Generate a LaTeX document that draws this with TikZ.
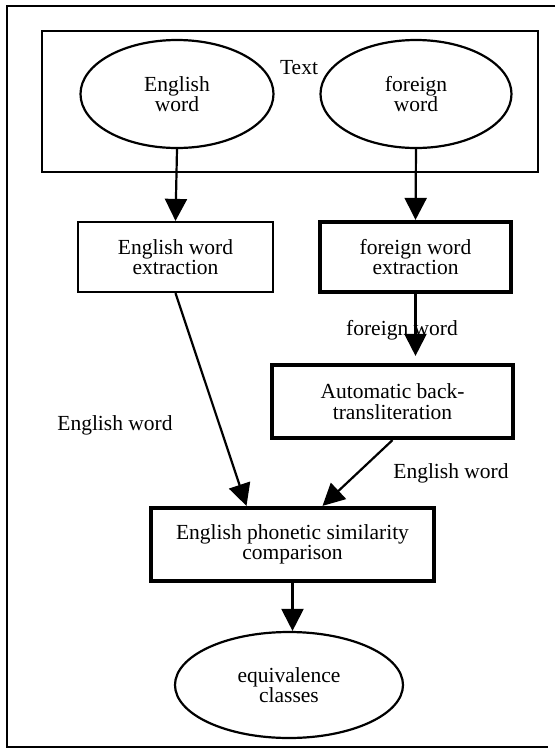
\documentclass[tikz,border=0pt]{standalone}
\usepackage{fontspec}
\setmainfont{Liberation Serif}
\usepackage{tikz}
\usetikzlibrary{shapes.geometric}
\usetikzlibrary{arrows.meta}
\tikzset{
  wordbox/.style={rectangle, draw, line width=2.2pt, align=center, inner sep=0pt},
  heavybox/.style={wordbox, line width=4.2pt},
  wordoval/.style={ellipse, draw, line width=2.2pt, align=center, inner sep=0pt},
  flow/.style={-{Triangle[length=22pt,width=22pt]}, line width=2.2pt},
}

\begin{document}
\begin{tikzpicture}[x=1pt, y=-1pt, font=\fontsize{21.5}{20.5}\selectfont]
\useasboundingbox (0,0) rectangle (555,748);
% Frame
\draw[line width=1.8pt] (555,6) -- (7,6) -- (7,747) -- (548,747);
\node[draw, line width=2.2pt, minimum width=496pt, minimum height=141pt, inner sep=0pt] (text) at (290,101.5) {};
\node (textlbl) at (299,68) {Text};

% Nodes
\node[wordoval, minimum width=193pt, minimum height=108pt] (eng) at (177,94) {English\\word};
\node[wordoval, minimum width=191pt, minimum height=108pt] (frn) at (416,94) {foreign\\word};
\node[wordbox, minimum width=195pt, minimum height=70pt] (engx) at (175.5,257) {English word\\extraction};
\node[heavybox, minimum width=191pt, minimum height=70pt] (frnx) at (415.5,257) {foreign word\\extraction};
\node[heavybox, minimum width=241pt, minimum height=73pt] (back) at (392.5,401.5) {Automatic back-\\transliteration};
\node[heavybox, minimum width=283pt, minimum height=73pt] (cmp) at (292.5,544.5) {English phonetic similarity\\comparison};
\node[wordoval, minimum width=228pt, minimum height=106pt] (eqv) at (289,685) {equivalence\\classes};

% Edges
\draw[flow] (eng.south) -- (engx.north);
\draw[flow] (frn.south) -- (frnx.north);
\draw[flow, shorten >=7pt] (frnx.south) -- (frnx.south |- back.north);
\draw[flow] (engx.south) -- ([xshift=-46pt]cmp.north);
\draw[flow] (back.south) -- ([xshift=30pt]cmp.north);
\draw[flow] (cmp.south) -- (cmp.south |- eqv.north);

% Edge labels
\node (frnlbl) at (402,330) {foreign word};
\node (englbl1) at (115,425) {English word};
\node (englbl2) at (451,473) {English word};
\end{tikzpicture}
\end{document}
